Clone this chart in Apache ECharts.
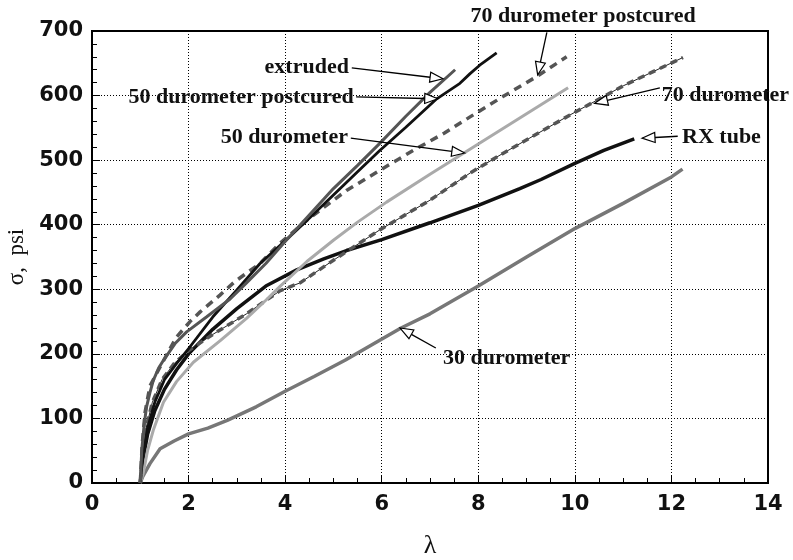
<!DOCTYPE html>
<html><head><meta charset="utf-8">
<script src="https://cdn.jsdelivr.net/npm/echarts@6/dist/echarts.min.js"></script>
<style>html,body{margin:0;padding:0;background:#fff}#c{width:793px;height:560px}</style>
</head><body><div id="c"></div>
<script>
// ---- data (lambda, sigma psi) ----
const extruded = [[1,0],[1.03,50],[1.08,90],[1.13,118],[1.2,140],[1.27,159],[1.38,178],[1.48,190],[1.72,216],[1.96,234],[2.37,257],[2.86,285],[3.2,310],[3.6,340],[4,374],[4.5,415],[5,456],[5.5,492],[5.96,526],[6.5,568],[7,605],[7.52,640]];
const dur50post = [[1,0],[1.05,40],[1.15,85],[1.3,125],[1.5,160],[1.75,185],[2.03,211],[2.5,257],[3,299],[3.48,340],[4,375],[4.5,410],[5,446],[5.5,482],[5.96,515],[6.5,551],[7.14,595],[7.62,619],[7.83,634],[8.03,647],[8.38,666]];
const dur70post = [[1,0],[1.04,60],[1.1,110],[1.2,150],[1.34,170],[1.5,192],[1.75,226],[2.03,250],[2.24,265],[2.65,291],[2.96,312],[3.48,340],[3.89,371],[4.5,410],[5.27,453],[6,486],[6.65,515],[7.3,542],[7.83,567],[8.5,598],[9.2,629],[9.83,660]];
const dur50 = [[1,0],[1.06,15],[1.15,50],[1.27,82],[1.48,125],[1.75,157],[2.1,187],[2.65,220],[3.2,255],[3.6,283],[3.9,305],[4.45,343],[5,376],[5.5,404],[6.1,435],[7,478],[8,525],[9,572],[9.86,612]];
const dur70 = [[1,0],[1.04,40],[1.12,85],[1.25,125],[1.45,160],[1.7,185],[2,205],[2.5,230],[3.2,262],[3.9,298],[4.31,310],[5,345],[5.96,392],[7,438],[7.83,480],[8.5,510],[9.2,540],[9.9,570],[11,615],[12.24,659]];
const rxTube = [[1,0],[1.05,35],[1.15,75],[1.3,112],[1.5,145],[1.75,175],[2,200],[2.5,238],[3,270],[3.6,305],[4.24,330],[4.8,347],[5.27,360],[6,377],[7,403],[8,430],[8.86,456],[9.3,470],[10,495],[10.6,515],[11.23,533]];
const dur30 = [[1,0],[1.05,10],[1.2,30],[1.41,53],[1.7,65],[2,76],[2.4,85],[2.8,97],[3.4,118],[4,142],[4.6,165],[5.24,190],[6.4,240],[7,262],[8,305],[9,350],[10,394],[11,433],[12,474],[12.23,486]];

// ---- axes ----
const xMin = 0, xMax = 14, xStep = 2;
const yMin = 0, yMax = 700, yStep = 100;
const xTitle = 'λ';
const yTitle = 'σ,  psi';

// ---- annotations (data coordinates) ----
const annoText  = ['extruded','50 durometer postcured','50 durometer','70 durometer postcured','70 durometer','RX tube','30 durometer'];
const annoPos   = [[5.32,643],[5.42,597],[5.30,535],[10.17,722],[11.80,601],[12.22,535],[7.27,193]];
const annoAlign = ['right','right','right','center','left','left','left'];
const arrowFrom = [[5.38,643],[5.47,598],[5.36,534],[9.42,698],[11.76,612],[12.13,537],[7.12,209]];
const arrowTo   = [[7.27,626],[7.16,595],[7.72,511],[9.23,632],[10.41,588],[11.39,534],[6.38,240]];

const chart = echarts.init(document.getElementById('c'), null, {renderer:'canvas'});
const tickFont = {fontFamily:'DejaVu Sans', fontWeight:'bold', fontSize:21, color:'#111'};
function line(name, data, color, width, type, z){
  return {name, type:'line', data, showSymbol:false, symbol:'none', smooth:false, z:z||2,
    lineStyle:{color, width, type:type||'solid', cap:'butt'}, animation:false};
}
chart.setOption({
  animation:false,
  backgroundColor:'#fff',
  grid:{left:92, right:25, top:31, bottom:77, outerBoundsMode:'none', containLabel:false,
    show:true, borderColor:'#000', borderWidth:2, backgroundColor:'transparent'},
  xAxis:{type:'value', min:xMin, max:xMax, interval:xStep,
    name:xTitle, nameLocation:'middle', nameGap:50,
    nameTextStyle:{fontFamily:'Liberation Serif', fontSize:26, color:'#111'},
    axisLine:{show:true, onZero:false, lineStyle:{color:'#000', width:2}},
    axisTick:{show:true, inside:true, length:8, lineStyle:{color:'#000', width:1}},
    minorTick:{show:true, splitNumber:4, length:5, lineStyle:{color:'#000', width:1}},
    axisLabel:Object.assign({margin:11}, tickFont),
    splitLine:{show:true, lineStyle:{color:'#000', width:1, type:[1,2]}}},
  yAxis:{type:'value', min:yMin, max:yMax, interval:yStep,
    name:yTitle, nameLocation:'middle', nameGap:62, nameRotate:90,
    nameTextStyle:{fontFamily:'Liberation Serif', fontSize:23, color:'#111'},
    axisLine:{show:true, onZero:false, lineStyle:{color:'#000', width:2}},
    axisTick:{show:true, inside:true, length:8, lineStyle:{color:'#000', width:1}},
    minorTick:{show:true, splitNumber:5, length:5, lineStyle:{color:'#000', width:1}},
    axisLabel:Object.assign({margin:9}, tickFont),
    splitLine:{show:true, lineStyle:{color:'#000', width:1, type:[1,2]}}},
  series:[
    line('30 durometer', dur30, '#777', 3.5),
    line('RX tube', rxTube, '#111', 3.5),
    line('70 durometer', dur70, '#222', 1),
    line('70 durometer dashes', dur70, '#555', 3.5, [7,5]),
    line('50 durometer', dur50, '#aaa', 3),
    line('70 durometer postcured', dur70post, '#555', 3.5, [8,6]),
    line('50 durometer postcured', dur50post, '#111', 2.8),
    line('extruded', extruded, '#555', 3)
  ]
});

function drawAnnotations(){
  const els = [];
  const toPx = p => chart.convertToPixel({gridIndex:0}, p);
  for (let i=0;i<annoText.length;i++){
    const tp = toPx(annoPos[i]);
    els.push({type:'text', z:20, style:{text:annoText[i], x:tp[0], y:tp[1], fill:'#111',
      font:'bold 22px "Liberation Serif"', textAlign:annoAlign[i], textVerticalAlign:'middle'}});
    const a = toPx(arrowFrom[i]), b = toPx(arrowTo[i]);
    const dx=b[0]-a[0], dy=b[1]-a[1], L=Math.hypot(dx,dy), ux=dx/L, uy=dy/L;
    const hl=13, hw=5;
    const bx=b[0]-ux*hl, by=b[1]-uy*hl;
    els.push({type:'line', z:20, shape:{x1:a[0],y1:a[1],x2:bx,y2:by}, style:{stroke:'#000', lineWidth:1.3}});
    els.push({type:'polygon', z:21, shape:{points:[[b[0],b[1]],[bx-uy*hw,by+ux*hw],[bx+uy*hw,by-ux*hw]]},
      style:{fill:'#fff', stroke:'#000', lineWidth:1.2}});
  }
  chart.setOption({graphic:els});
}
drawAnnotations();
</script>
</body></html>
